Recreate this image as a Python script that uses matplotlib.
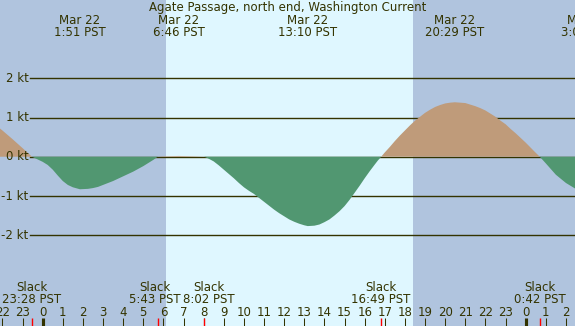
import matplotlib
matplotlib.use("Agg")
import matplotlib.pyplot as plt

# hours since midnight Mar 22 (PST) and current speed in knots (+ flood, - ebb)
hours = [-2.12, -2.0, -1.5, -1.0, -0.53, 0.0, 0.25, 0.5, 0.75, 1.0, 1.25, 1.5, 1.85,
         2.25, 2.5, 2.75, 3.0, 3.25, 3.5, 3.75, 4.0, 4.25, 4.5, 4.75, 5.0, 5.25, 5.5,
         5.72, 6.0, 6.77, 7.5, 8.03, 8.25, 8.5, 8.75, 9.0, 9.25, 9.5, 9.75, 10.0,
         10.25, 10.5, 10.75, 11.0, 11.25, 11.5, 11.75, 12.0, 12.25, 12.5, 12.75, 13.0,
         13.17, 13.5, 13.75, 14.0, 14.25, 14.5, 14.75, 15.0, 15.25, 15.5, 15.75, 16.0,
         16.25, 16.5, 16.65, 16.82, 17.0, 17.25, 17.5, 17.75, 18.0, 18.25, 18.5, 18.75,
         19.0, 19.25, 19.5, 19.75, 20.0, 20.25, 20.48, 20.75, 21.0, 21.25, 21.5, 21.75,
         22.0, 22.25, 22.5, 22.75, 23.0, 23.25, 23.5, 23.75, 24.0, 24.25, 24.5, 24.7,
         25.0, 25.5, 26.0, 26.45]
knots = [0.72, 0.67, 0.45, 0.22, 0.0, -0.13, -0.21, -0.33, -0.48, -0.62, -0.72, -0.78,
         -0.83, -0.82, -0.80, -0.77, -0.72, -0.67, -0.62, -0.56, -0.50, -0.44, -0.38,
         -0.31, -0.24, -0.16, -0.08, 0.0, 0.01, 0.02, 0.01, 0.0, -0.05, -0.12, -0.22,
         -0.33, -0.44, -0.55, -0.67, -0.78, -0.87, -0.95, -1.05, -1.15, -1.25, -1.35,
         -1.44, -1.52, -1.60, -1.66, -1.71, -1.75, -1.77, -1.76, -1.73, -1.67, -1.60,
         -1.50, -1.39, -1.26, -1.10, -0.92, -0.74, -0.55, -0.37, -0.20, -0.10, 0.0,
         0.11, 0.25, 0.40, 0.54, 0.67, 0.80, 0.92, 1.02, 1.12, 1.20, 1.27, 1.32, 1.36,
         1.38, 1.39, 1.38, 1.37, 1.33, 1.29, 1.24, 1.18, 1.10, 1.02, 0.92, 0.83, 0.71,
         0.60, 0.48, 0.36, 0.23, 0.10, 0.0, -0.17, -0.46, -0.67, -0.81]

sunrise, sunset = 6.13, 18.4

max_times = [1.85, 6.77, 13.17, 20.48, 27.05]
max_labels = ["1:51 PST", "6:46 PST", "13:10 PST", "20:29 PST", "3:03 PST"]

slack_times = [-0.53, 5.72, 8.03, 16.82, 24.7]
slack_labels = ["23:28 PST", "5:43 PST", "8:02 PST", "16:49 PST", "0:42 PST"]
slack_shift = [0, -3, 5, 0, 0]  # pixels, to keep labels apart

kt_levels = [2, 1, 0, -1, -2]
hour_ticks = list(range(-2, 27))

night = "#b0c4de"
day = "#dff7ff"
flood = "#bf9b7a"
ebb = "#519771"
ink = "#333300"

fig = plt.figure(figsize=(5.75, 3.26), dpi=100)
ax = fig.add_axes([0, 0, 1, 1])
ax.set_xlim(-2.12, 26.45)
ax.set_ylim(-4.32, 4.0)
ax.axis("off")

ax.axvspan(-3, sunrise, color=night, zorder=0, lw=0)
ax.axvspan(sunrise, sunset, color=day, zorder=0, lw=0)
ax.axvspan(sunset, 30, color=night, zorder=0, lw=0)

for k in kt_levels:
    ax.axhline(k, xmin=0.052, xmax=1, color=ink, lw=1, zorder=1)
    ax.text(0.0496, k - 0.095, "%d kt" % k, transform=ax.get_yaxis_transform(),
            ha="right", va="baseline", fontsize=8.5, color=ink)

ax.fill_between(hours, knots, 0, where=[v >= 0 for v in knots], color=flood,
                lw=0, zorder=2, interpolate=True)
ax.fill_between(hours, knots, 0, where=[v <= 0 for v in knots], color=ebb,
                lw=0, zorder=2, interpolate=True)

xt = ax.get_xaxis_transform()
ax.text(0.5, 1 - 11 / 326, "Agate Passage, north end, Washington Current",
        transform=ax.transAxes, ha="center", va="baseline", fontsize=8.5, color=ink)
for t, lab in zip(max_times, max_labels):
    ax.text(t, 1 - 24 / 326, "Mar 22", transform=xt, ha="center", va="baseline",
            fontsize=8.5, color=ink)
    ax.text(t, 1 - 36 / 326, lab, transform=xt, ha="center", va="baseline",
            fontsize=8.5, color=ink)

for t, lab, dx in zip(slack_times, slack_labels, slack_shift):
    xp = t + dx / 20.125
    ax.text(xp, 1 - 291.3 / 326, "Slack", transform=xt, ha="center", va="baseline",
            fontsize=8.5, color=ink)
    ax.text(xp, 1 - 303.3 / 326, lab, transform=xt, ha="center", va="baseline",
            fontsize=8.5, color=ink)

for h in hour_ticks:
    lw = 3 if h % 24 == 0 else 1
    ax.plot([h, h], [0, 8 / 326], transform=xt, color=ink, lw=lw * 0.75,
            solid_capstyle="butt", zorder=3)
    ax.text(h, 1 - 315.7 / 326, str(h % 24), transform=xt, ha="center",
            va="baseline", fontsize=8.5, color=ink)
for t in slack_times:
    ax.plot([t, t], [0, 8 / 326], transform=xt, color="red", lw=1.0,
            solid_capstyle="butt", zorder=3)

fig.savefig("out.png", dpi=100)
